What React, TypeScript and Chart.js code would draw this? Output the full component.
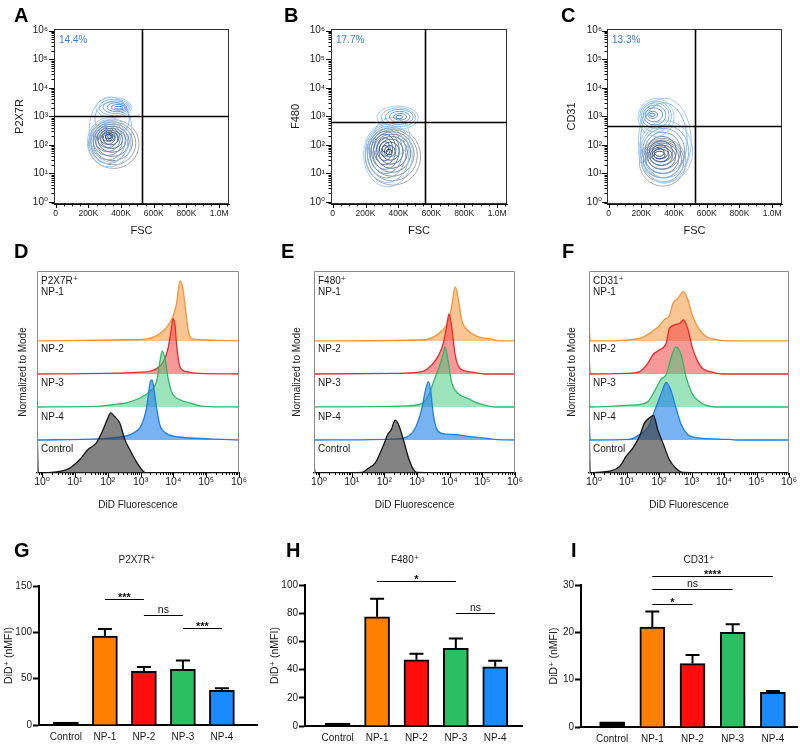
import React, { useEffect, useRef } from 'react';
import { Chart, registerables } from 'chart.js';

Chart.register(...registerables);

const FONT = '"Liberation Sans", Arial, "DejaVu Sans", sans-serif';
const INK = '#1a1a1a';

// ---------------- Top row: FSC vs marker contour plots ----------------
const FSC_MAJOR = [0, 200000, 400000, 600000, 800000, 1000000];
const FSC_LABELS = ['0', '200K', '400K', '600K', '800K', '1.0M'];
const DECADES = [1, 10, 100, 1000, 10000, 100000, 1000000];
const DECADE_LABELS = ['10⁰', '10¹', '10²', '10³', '10⁴', '10⁵', '10⁶'];

const MARKERS = ['P2X7R', 'F480', 'CD31'];
const QUADRANT_PCT = ['14.4%', '17.7%', '13.3%'];
const GATE_FSC = [530000, 559000, 530000];
const GATE_MARKER = [1050, 630, 470];

// contour rings: [FSC low (K), FSC high (K), marker low, marker high]
const A_GRAY = [
  [200, 510, 15, 760], [215, 490, 20, 640], [230, 470, 28, 540], [245, 450, 40, 450],
  [260, 430, 55, 380], [275, 410, 75, 320], [290, 385, 100, 280], [305, 360, 135, 250], [318, 345, 165, 225],
];
const A_BRIDGE = [[205, 465, 25, 4800], [240, 450, 200, 3200]];
const A_BLUE = [
  [194, 460, 17, 900], [205, 440, 22, 760], [215, 425, 30, 640], [228, 410, 42, 540],
  [240, 395, 58, 450], [255, 380, 80, 380], [270, 365, 105, 320], [285, 350, 135, 270], [305, 340, 160, 235],
];
const A_BLOB = [
  [245, 465, 900, 4600], [265, 455, 1050, 4000], [290, 445, 1250, 3500],
  [315, 435, 1450, 3000], [340, 425, 1650, 2600], [360, 412, 1800, 2250],
];

const B_GRAY = [
  [198, 535, 3.9, 400], [212, 515, 5.5, 340], [228, 495, 8, 290], [245, 475, 11, 240],
  [262, 455, 15, 200], [280, 430, 21, 160], [298, 405, 29, 125], [315, 380, 38, 95], [325, 360, 45, 70],
];
const B_BRIDGE = [[250, 470, 40, 900]];
const B_BLUE = [
  [188, 484, 3.4, 600], [198, 465, 4.8, 520], [210, 445, 7, 440], [222, 425, 10, 370],
  [235, 405, 14, 300], [250, 385, 20, 240], [268, 365, 28, 180], [285, 350, 40, 130], [300, 340, 55, 95],
];
const B_BLOB = [
  [270, 520, 350, 2300], [295, 505, 430, 2000], [320, 490, 520, 1750],
  [345, 470, 620, 1500], [370, 450, 740, 1250], [385, 425, 830, 1080],
];

const C_GRAY = [
  [188, 473, 3.6, 170], [200, 460, 5, 150], [212, 445, 7, 130], [225, 430, 10, 115],
  [238, 410, 14, 100], [252, 390, 19, 85], [265, 370, 26, 72], [278, 345, 33, 60],
];
const C_BRIDGE = [[182, 505, 4.5, 4300], [195, 480, 7, 3000]];
const C_BLUE = [
  [184, 514, 5, 700], [195, 490, 7, 500], [208, 465, 10, 380], [222, 440, 14, 280],
  [236, 415, 19, 200], [250, 390, 25, 140], [265, 365, 32, 100], [280, 340, 40, 75],
];
const C_BLOB = [
  [180, 400, 200, 4200], [190, 385, 280, 3500], [200, 370, 380, 3000], [212, 350, 500, 2500],
  [225, 330, 650, 2000], [240, 300, 850, 1500], [250, 285, 1000, 1300],
];

const CONTOURS = [
  { gray: A_GRAY, bridge: A_BRIDGE, blue: A_BLUE, blob: A_BLOB },
  { gray: B_GRAY, bridge: B_BRIDGE, blue: B_BLUE, blob: B_BLOB },
  { gray: C_GRAY, bridge: C_BRIDGE, blue: C_BLUE, blob: C_BLOB },
];

// ---------------- Middle row: DiD histograms ----------------
// each point: [DiD fluorescence, % of mode]; rows ordered Control, NP-4, NP-3, NP-2, NP-1
const ROW_NAMES = ['Control', 'NP-4', 'NP-3', 'NP-2', 'NP-1'];

const D_CONTROL = [[3.8, 3], [6.9, 8], [13.8, 22], [25, 39], [45, 50], [72, 72], [102, 92], [123, 100], [162, 94], [234, 83], [331, 56], [468, 39], [741, 19], [1202, 3], [1514, 0]];
const D_NP4 = [[56, 2], [234, 5], [589, 11], [1072, 25], [1514, 53], [1995, 97], [2239, 100], [2570, 84], [3090, 53], [3890, 25], [6166, 11], [15849, 5], [128825, 2]];
const D_NP3 = [[40, 1], [145, 4], [372, 7], [955, 15], [1905, 26], [3090, 43], [4074, 82], [4571, 93], [5495, 82], [6918, 48], [8710, 26], [15849, 12], [31623, 7], [81283, 1]];
const D_NP2 = [[1202, 3], [3090, 9], [4898, 20], [6918, 43], [8710, 76], [9772, 92], [11220, 81], [12589, 48], [15849, 12], [25119, 4], [64565, 1]];
const D_NP1 = [[372, 2], [1500, 3], [3090, 9], [6166, 22], [9772, 41], [12589, 63], [15849, 100], [19055, 90], [22387, 63], [28184, 19], [35481, 4], [64565, 2]];
const D_SPIKE = [100, 0, 0, 0, 0];

const E_CONTROL = [[20.4, 1], [32.4, 8], [52.5, 17], [74.1, 33], [105, 53], [126, 64], [162, 72], [214, 88], [269, 81], [380, 56], [550, 25], [776, 6], [977, 1]];
const E_NP4 = [[269, 2], [437, 4], [692, 11], [977, 25], [1413, 53], [1778, 81], [2239, 97], [2630, 81], [3162, 42], [3981, 19], [5754, 11], [14791, 9], [37154, 6], [120226, 3], [245471, 1]];
const E_NP3 = [[550, 2], [1413, 6], [2239, 19], [3162, 41], [4571, 64], [6166, 86], [7244, 100], [8710, 80], [11482, 41], [18621, 22], [37154, 14], [60256, 8], [120226, 3], [245471, 0]];
const E_NP2 = [[214, 1], [1413, 4], [2818, 15], [4571, 31], [6457, 52], [8128, 81], [9550, 100], [11482, 79], [14791, 31], [20893, 9], [47863, 3], [120226, 0]];
const E_NP1 = [[1778, 2], [3548, 8], [5754, 17], [9120, 33], [11482, 57], [14791, 90], [17783, 74], [23442, 35], [37154, 17], [75858, 7], [194984, 3], [309030, 0]];
const E_SPIKE = [17, 0, 0, 0, 0];

const F_CONTROL = [[1.17, 1], [3.02, 3], [6.17, 11], [9.77, 28], [15.8, 42], [25.1, 61], [35.5, 83], [51.3, 92], [67.6, 96], [91.2, 72], [132, 50], [209, 22], [331, 8], [537, 1]];
const F_NP4 = [[12.3, 1], [25.1, 9], [45.7, 21], [72.4, 48], [115, 76], [166, 96], [234, 82], [331, 54], [479, 26], [759, 9], [1380, 4], [14454, 1], [22909, 0]];
const F_NP3 = [[12.3, 3], [31.6, 5], [45.7, 9], [72.4, 26], [115, 46], [166, 54], [234, 82], [331, 100], [479, 87], [676, 51], [1072, 21], [1738, 9], [2754, 3], [5623, 0]];
const F_NP2 = [[9.8, 1], [25.1, 4], [45.7, 18], [64.6, 32], [102, 40], [166, 51], [209, 76], [331, 82], [427, 84], [562, 90], [759, 76], [1072, 43], [1549, 21], [2188, 9], [4467, 3], [8913, 0]];
const F_NP1 = [[12.3, 2], [31.6, 6], [64.6, 17], [102, 25], [148, 36], [209, 42], [275, 64], [372, 70], [562, 82], [759, 70], [1072, 42], [1738, 19], [2754, 8], [5012, 3], [11482, 0]];
const F_SPIKE = [100, 50, 12, 34, 33];

const HIST_HEADERS = ['P2X7R⁺', 'F480⁺', 'CD31⁺'];
const HISTS = [
  { rows: [D_CONTROL, D_NP4, D_NP3, D_NP2, D_NP1], spikes: D_SPIKE },
  { rows: [E_CONTROL, E_NP4, E_NP3, E_NP2, E_NP1], spikes: E_SPIKE },
  { rows: [F_CONTROL, F_NP4, F_NP3, F_NP2, F_NP1], spikes: F_SPIKE },
];

// ---------------- Bottom row: bar charts ----------------
const CATEGORIES = ['Control', 'NP-1', 'NP-2', 'NP-3', 'NP-4'];
const BAR_COLORS = ['#000000', '#ff8000', '#ff0d0d', '#2cbf62', '#1a8aff'];

const G_MEAN = [1, 96, 58, 60, 37.5];
const G_ERR = [0, 7.5, 4.5, 9.5, 2.2];
const G_SIG_FROM = [2, 3, 4];
const G_SIG_TO = [3, 4, 5];
const G_SIG_Y = [136, 118.7, 104.3];
const G_SIG_LABEL = ['***', 'ns', '***'];

const H_MEAN = [1, 77.5, 47, 55, 42];
const H_ERR = [0, 12.8, 4.2, 7, 4.2];
const H_SIG_FROM = [2, 4];
const H_SIG_TO = [4, 5];
const H_SIG_Y = [102.8, 80.3];
const H_SIG_LABEL = ['*', 'ns'];

const I_MEAN = [1.1, 21.1, 13.4, 20, 7.3];
const I_ERR = [0, 3.3, 1.8, 1.7, 0.3];
const I_SIG_FROM = [2, 2, 2];
const I_SIG_TO = [5, 4, 3];
const I_SIG_Y = [31.9, 29.1, 25.9];
const I_SIG_LABEL = ['****', 'ns', '*'];

const BAR_TITLES = ['P2X7R⁺', 'F480⁺', 'CD31⁺'];
const BARS = [
  { mean: G_MEAN, err: G_ERR, from: G_SIG_FROM, to: G_SIG_TO, y: G_SIG_Y, label: G_SIG_LABEL, yMax: 150, step: 50 },
  { mean: H_MEAN, err: H_ERR, from: H_SIG_FROM, to: H_SIG_TO, y: H_SIG_Y, label: H_SIG_LABEL, yMax: 100, step: 20 },
  { mean: I_MEAN, err: I_ERR, from: I_SIG_FROM, to: I_SIG_TO, y: I_SIG_Y, label: I_SIG_LABEL, yMax: 30, step: 10 },
];

// ---------------- layout (positions / sizes) ----------------
const TOP_GEOM = [
  { left: 0, width: 265, yW: 54, padR: 36, titlePad: 14.5, labelPad: 6 },
  { left: 265, width: 265, yW: 66, padR: 23, titlePad: 25.5, labelPad: 6 },
  { left: 530, width: 270, yW: 77, padR: 18, titlePad: 36.5, labelPad: 5 },
];
const MID_GEOM = [
  { left: 0, width: 265, yW: 37, padR: 26, titlePad: 18 },
  { left: 265, width: 265, yW: 49, padR: 15, titlePad: 27 },
  { left: 530, width: 270, yW: 59, padR: 10, titlePad: 37 },
];
const BOT_GEOM = [
  { left: 0, width: 265, yW: 39, padTop: 46, padR: 8, xH: 20, xMin: 0.31, xMax: 5.9, titlePad: 4 },
  { left: 265, width: 265, yW: 40, padTop: 45, padR: 8, xH: 19, xMin: 0.17, xMax: 5.68, titlePad: 5 },
  { left: 530, width: 270, yW: 51, padTop: 45, padR: 3, xH: 18, xMin: 0.225, xMax: 5.6, titlePad: 19 },
];

const ROW_LINE = ['#151515', '#1f7fe6', '#2db868', '#ea2a2a', '#f29433'];
const ROW_FILL = ['rgba(55,55,55,0.62)', 'rgba(35,130,235,0.62)', 'rgba(60,200,120,0.5)', 'rgba(240,70,70,0.55)', 'rgba(245,150,60,0.55)'];
const PEAK_UNITS = 1.82;
const HIST_MIN = 0.7;
const HIST_MAX = 1000000;
const HIST_LABEL_Y = [0.72, 1.7, 2.72, 3.75, 5.48];

const GRAY_OUT = [170, 170, 170];
const GRAY_IN = [70, 70, 70];
const BLUE_OUT = [160, 202, 242];
const BLUE_IN = [35, 85, 165];
const BLOB_IN = [70, 130, 210];

// ---------------- helpers ----------------
function mixColor(a: number[], b: number[], t: number) {
  const c = a.map((v, i) => Math.round(v + (b[i] - v) * t));
  return `rgb(${c[0]},${c[1]},${c[2]})`;
}

function fscTicks() {
  const out: any[] = [];
  for (let v = 0; v <= 1050000; v += 50000) out.push({ value: v, major: FSC_MAJOR.includes(v) });
  return out;
}
function fscLabel(v: number) {
  const i = FSC_MAJOR.indexOf(v);
  return i < 0 ? '' : FSC_LABELS[i];
}
function logTicks(min: number, max: number) {
  const out: any[] = [];
  for (let e = -1; e <= 6; e++) {
    const d = Math.pow(10, e);
    for (let k = 1; k <= 9; k++) {
      const v = parseFloat((k * d).toPrecision(6));
      if (v >= min * 1.05 && v <= max * 1.0001) out.push({ value: v, major: k === 1 });
    }
  }
  return out;
}
function decadeLabel(v: number) {
  const i = DECADES.indexOf(v);
  return i < 0 ? '' : DECADE_LABELS[i];
}

// ---------------- plugins ----------------
const contourPlugin = {
  id: 'contourRings',
  afterDatasetsDraw(chart: any) {
    const { ctx, chartArea: ca, scales } = chart;
    const xs = scales.x;
    const ys = scales.y;
    ctx.save();
    ctx.beginPath();
    ctx.rect(ca.left, ca.top, ca.right - ca.left, ca.bottom - ca.top);
    ctx.clip();
    chart.data.datasets.forEach((ds: any) => {
      const n = ds.data.length;
      ds.data.forEach((p: any, i: number) => {
        const r = p.ring;
        const x1 = xs.getPixelForValue(r[0] * 1000);
        const x2 = xs.getPixelForValue(r[1] * 1000);
        const y1 = ys.getPixelForValue(r[3]);
        const y2 = ys.getPixelForValue(r[2]);
        ctx.strokeStyle = mixColor(ds.ringFrom, ds.ringTo, n > 1 ? i / (n - 1) : 0);
        ctx.lineWidth = 1;
        ctx.beginPath();
        ctx.ellipse((x1 + x2) / 2, (y1 + y2) / 2, Math.abs(x2 - x1) / 2, Math.abs(y2 - y1) / 2, 0, 0, Math.PI * 2);
        ctx.stroke();
      });
    });
    ctx.restore();
  },
};

const quadrantPlugin = {
  id: 'quadrant',
  afterDatasetsDraw(chart: any, _a: any, opts: any) {
    const { ctx, chartArea: ca, scales } = chart;
    const gx = Math.round(scales.x.getPixelForValue(opts.gx)) + 0.5;
    const gy = Math.round(scales.y.getPixelForValue(opts.gy)) + 0.5;
    ctx.save();
    ctx.strokeStyle = '#333';
    ctx.lineWidth = 1;
    ctx.strokeRect(ca.left + 0.5, ca.top + 0.5, ca.right - ca.left - 1, ca.bottom - ca.top - 1);
    ctx.strokeStyle = '#000';
    ctx.lineWidth = 1.6;
    ctx.beginPath();
    ctx.moveTo(gx, ca.top);
    ctx.lineTo(gx, ca.bottom);
    ctx.moveTo(ca.left, gy);
    ctx.lineTo(ca.right, gy);
    ctx.stroke();
    ctx.fillStyle = '#3b82d6';
    ctx.font = `10px ${FONT}`;
    ctx.textBaseline = 'top';
    ctx.textAlign = 'left';
    ctx.fillText(opts.text, ca.left + 5, ca.top + 6);
    ctx.restore();
  },
};

const tickMarkPlugin = {
  id: 'tickMarks',
  afterDraw(chart: any, _a: any, opts: any) {
    const { ctx } = chart;
    ctx.save();
    ctx.strokeStyle = '#000';
    ctx.lineWidth = 1;
    ['x', 'y'].forEach((id) => {
      const cfg = opts[id];
      const s = chart.scales[id];
      if (!cfg || !s) return;
      s.ticks.forEach((t: any) => {
        const len = t.major ? cfg.major : cfg.minor;
        const p = Math.round(s.getPixelForValue(t.value)) + 0.5;
        ctx.beginPath();
        if (id === 'x') {
          ctx.moveTo(p, s.top);
          ctx.lineTo(p, s.top + len);
        } else {
          ctx.moveTo(s.right, p);
          ctx.lineTo(s.right - len, p);
        }
        ctx.stroke();
      });
    });
    ctx.restore();
  },
};

const histDecorPlugin = {
  id: 'histDecor',
  afterDraw(chart: any, _a: any, opts: any) {
    const { ctx, chartArea: ca, scales } = chart;
    ctx.save();
    ctx.strokeStyle = '#8a8a8a';
    ctx.lineWidth = 1;
    ctx.beginPath();
    ctx.moveTo(ca.left + 0.5, ca.bottom);
    ctx.lineTo(ca.left + 0.5, ca.top + 0.5);
    ctx.lineTo(ca.right - 0.5, ca.top + 0.5);
    ctx.lineTo(ca.right - 0.5, ca.bottom);
    ctx.stroke();
    ctx.fillStyle = INK;
    ctx.font = `10px ${FONT}`;
    ctx.textAlign = 'left';
    ctx.textBaseline = 'middle';
    opts.labels.forEach((l: any) => ctx.fillText(l.text, ca.left + 4, scales.y.getPixelForValue(l.y)));
    ctx.restore();
  },
};

const barDecorPlugin = {
  id: 'barDecor',
  afterDatasetsDraw(chart: any, _a: any, opts: any) {
    const { ctx, scales } = chart;
    const xs = scales.x;
    const ys = scales.y;
    const pts = chart.data.datasets[0].data;
    ctx.save();
    ctx.strokeStyle = '#000';
    ctx.lineWidth = 2;
    pts.forEach((p: any, i: number) => {
      const e = opts.err[i];
      if (!e) return;
      const px = xs.getPixelForValue(p.x);
      const y0 = ys.getPixelForValue(p.y);
      const y1 = ys.getPixelForValue(p.y + e);
      ctx.beginPath();
      ctx.moveTo(px, y0);
      ctx.lineTo(px, y1);
      ctx.moveTo(px - 7, y1);
      ctx.lineTo(px + 7, y1);
      ctx.stroke();
    });
    ctx.lineWidth = 1.2;
    ctx.fillStyle = '#111';
    ctx.textAlign = 'center';
    ctx.textBaseline = 'alphabetic';
    opts.sig.forEach((s: any) => {
      const x1 = xs.getPixelForValue(s.from);
      const x2 = xs.getPixelForValue(s.to);
      const y = Math.round(ys.getPixelForValue(s.y)) + 0.5;
      ctx.beginPath();
      ctx.moveTo(x1, y);
      ctx.lineTo(x2, y);
      ctx.stroke();
      const stars = s.label.indexOf('*') >= 0;
      ctx.font = stars ? `bold 11px ${FONT}` : `10.5px ${FONT}`;
      ctx.fillText(s.label, (x1 + x2) / 2, stars ? y + 1.5 : y - 3);
    });
    ctx.restore();
  },
};

// ---------------- chart configs ----------------
function ringSet(rings: number[][], label: string, from: number[], to: number[]) {
  return {
    type: 'scatter',
    label,
    data: rings.map((r) => ({ x: (r[0] + r[1]) * 500, y: Math.sqrt(r[2] * r[3]), ring: r })),
    pointRadius: 0,
    ringFrom: from,
    ringTo: to,
  };
}

function topConfig(k: number): any {
  const g = TOP_GEOM[k];
  const c = CONTOURS[k];
  return {
    type: 'scatter',
    data: {
      datasets: [
        ringSet(c.gray, 'Unstained', GRAY_OUT, GRAY_IN),
        ringSet(c.bridge, MARKERS[k] + ' outer', BLUE_OUT, [130, 180, 235]),
        ringSet(c.blue, MARKERS[k], BLUE_OUT, BLUE_IN),
        ringSet(c.blob, MARKERS[k] + ' high', BLUE_OUT, BLOB_IN),
      ],
    },
    options: {
      animation: false,
      responsive: false,
      maintainAspectRatio: false,
      events: [],
      layout: { padding: { top: 29, right: g.padR, left: 0, bottom: 0 } },
      plugins: {
        legend: { display: false },
        tooltip: { enabled: false },
        quadrant: { gx: GATE_FSC[k], gy: GATE_MARKER[k], text: QUADRANT_PCT[k] },
        tickMarks: { x: { major: 4, minor: 2.5 }, y: { major: 5, minor: 2.5 } },
      },
      scales: {
        x: {
          type: 'linear',
          position: 'bottom',
          min: -10000,
          max: 1060000,
          afterBuildTicks: (s: any) => { s.ticks = fscTicks(); },
          afterFit: (s: any) => { s.height = 41; },
          ticks: { autoSkip: false, maxRotation: 0, padding: 5, color: INK, font: { family: FONT, size: 8.5 }, callback: fscLabel },
          grid: { display: false, drawTicks: false },
          border: { display: true, color: '#000', width: 1 },
          title: { display: true, text: 'FSC', color: INK, font: { family: FONT, size: 11, lineHeight: 1 }, padding: { top: 0, bottom: 8.5 } },
        },
        y: {
          type: 'logarithmic',
          position: 'left',
          min: 0.85,
          max: 1150000,
          afterBuildTicks: (s: any) => { s.ticks = logTicks(s.min, s.max); },
          afterFit: (s: any) => { s.width = g.yW; },
          ticks: { autoSkip: false, padding: g.labelPad, color: INK, font: { family: FONT, size: 10 }, callback: decadeLabel },
          grid: { display: false, drawTicks: false },
          border: { display: true, color: '#000', width: 1 },
          title: { display: true, text: MARKERS[k], color: INK, font: { family: FONT, size: 11, lineHeight: 1 }, padding: { top: g.titlePad, bottom: 0 } },
        },
      },
    },
    plugins: [contourPlugin, quadrantPlugin, tickMarkPlugin],
  };
}

function midConfig(k: number): any {
  const g = MID_GEOM[k];
  const h = HISTS[k];
  const datasets = h.rows.map((pts, i) => {
    const lift = (p: number) => i + (p * PEAK_UNITS) / 100;
    const data: any[] = [{ x: HIST_MIN, y: lift(h.spikes[i]) }];
    if (h.spikes[i] > 0) data.push({ x: 0.76, y: i });
    pts.forEach(([x, p]) => data.push({ x, y: lift(p) }));
    data.push({ x: HIST_MAX, y: i });
    return {
      label: ROW_NAMES[i],
      data,
      borderColor: ROW_LINE[i],
      backgroundColor: ROW_FILL[i],
      fill: { value: i },
      borderWidth: 1.3,
      pointRadius: 0,
      cubicInterpolationMode: 'monotone',
    };
  });
  const labels = [{ text: HIST_HEADERS[k], y: 5.82 }].concat(ROW_NAMES.map((t, i) => ({ text: t, y: HIST_LABEL_Y[i] })));
  return {
    type: 'line',
    data: { datasets },
    options: {
      animation: false,
      responsive: false,
      maintainAspectRatio: false,
      events: [],
      layout: { padding: { top: 21, right: g.padR, left: 0, bottom: 0 } },
      plugins: {
        legend: { display: false },
        tooltip: { enabled: false },
        filler: { propagate: false },
        histDecor: { labels },
        tickMarks: { x: { major: 4, minor: 2 } },
      },
      scales: {
        x: {
          type: 'logarithmic',
          position: 'bottom',
          min: HIST_MIN,
          max: HIST_MAX,
          afterBuildTicks: (s: any) => { s.ticks = logTicks(s.min, s.max); },
          afterFit: (s: any) => { s.height = 42; },
          ticks: { autoSkip: false, maxRotation: 0, padding: 3, color: INK, font: { family: FONT, size: 10.5 }, callback: decadeLabel },
          grid: { display: false, drawTicks: false },
          border: { display: true, color: '#000', width: 1.2 },
          title: { display: true, text: 'DiD Fluorescence', color: INK, font: { family: FONT, size: 10, lineHeight: 1 }, padding: { top: 0, bottom: 5 } },
        },
        y: {
          type: 'linear',
          min: 0,
          max: 6.12,
          afterFit: (s: any) => { s.width = g.yW; },
          ticks: { display: false },
          grid: { display: false, drawTicks: false },
          border: { display: false },
          title: { display: true, text: 'Normalized to Mode', color: INK, font: { family: FONT, size: 10, lineHeight: 1 }, padding: { top: g.titlePad, bottom: 0 } },
        },
      },
    },
    plugins: [histDecorPlugin, tickMarkPlugin],
  };
}

function botConfig(k: number): any {
  const g = BOT_GEOM[k];
  const b = BARS[k];
  const sig = b.from.map((f, i) => ({ from: f, to: b.to[i], y: b.y[i], label: b.label[i] }));
  return {
    type: 'bar',
    data: {
      datasets: [
        {
          label: BAR_TITLES[k],
          data: b.mean.map((m, i) => ({ x: i + 1, y: m })),
          backgroundColor: BAR_COLORS,
          borderColor: '#000',
          borderWidth: 2,
          borderSkipped: 'bottom',
          barThickness: 25,
          minBarLength: 3,
        },
      ],
    },
    options: {
      animation: false,
      responsive: false,
      maintainAspectRatio: false,
      events: [],
      layout: { padding: { top: g.padTop, right: g.padR, left: 0, bottom: 0 } },
      plugins: {
        legend: { display: false },
        tooltip: { enabled: false },
        barDecor: { err: b.err, sig },
      },
      scales: {
        x: {
          type: 'linear',
          offset: false,
          min: g.xMin,
          max: g.xMax,
          afterBuildTicks: (s: any) => { s.ticks = CATEGORIES.map((_, i) => ({ value: i + 1 })); },
          afterFit: (s: any) => { s.height = g.xH; },
          ticks: { autoSkip: false, maxRotation: 0, padding: 6, color: INK, font: { family: FONT, size: 10 }, callback: (v: number) => CATEGORIES[v - 1] || '' },
          grid: { display: false, drawTicks: false, offset: false },
          border: { display: true, color: '#000', width: 2 },
        },
        y: {
          type: 'linear',
          min: 0,
          max: b.yMax,
          afterFit: (s: any) => { s.width = g.yW; },
          ticks: { stepSize: b.step, padding: 1, color: INK, font: { family: FONT, size: 10 } },
          grid: { display: true, drawOnChartArea: false, drawTicks: true, tickLength: 6, tickWidth: 2, tickColor: '#000' },
          border: { display: true, color: '#000', width: 2 },
          title: { display: true, text: 'DiD⁺ (nMFI)', color: INK, font: { family: FONT, size: 10.5, lineHeight: 1 }, padding: { top: g.titlePad, bottom: 0 } },
        },
      },
    },
    plugins: [barDecorPlugin],
  };
}

// ---------------- components ----------------
function ChartBox(props: { left: number; top: number; width: number; height: number; make: () => any }) {
  const ref = useRef<HTMLCanvasElement | null>(null);
  useEffect(() => {
    const chart = new Chart(ref.current as HTMLCanvasElement, props.make());
    return () => chart.destroy();
  }, []);
  return (
    <canvas
      ref={ref}
      width={props.width}
      height={props.height}
      style={{ position: 'absolute', left: props.left, top: props.top, width: props.width, height: props.height }}
    />
  );
}

const letterStyle = (left: number, top: number): React.CSSProperties => ({
  position: 'absolute', left, top, fontFamily: FONT, fontWeight: 'bold', fontSize: 20, lineHeight: '20px', color: '#000',
});

export default function App() {
  const letters: [string, number, number][] = [
    ['A', 14, 5], ['B', 284, 5], ['C', 561, 5],
    ['D', 14, 241], ['E', 281, 241], ['F', 562, 241],
    ['G', 14, 540], ['H', 286, 540], ['I', 571, 540],
  ];
  const titleX = [137, 405, 699];
  return (
    <div style={{ position: 'absolute', left: 0, top: 0, width: 800, height: 745, background: '#fff', overflow: 'hidden' }}>
      {TOP_GEOM.map((g, k) => (
        <ChartBox key={'t' + k} left={g.left} top={0} width={g.width} height={245} make={() => topConfig(k)} />
      ))}
      {MID_GEOM.map((g, k) => (
        <ChartBox key={'m' + k} left={g.left} top={250} width={g.width} height={265} make={() => midConfig(k)} />
      ))}
      {BOT_GEOM.map((g, k) => (
        <ChartBox key={'b' + k} left={g.left} top={540} width={g.width} height={205} make={() => botConfig(k)} />
      ))}
      {BAR_TITLES.map((t, k) => (
        <div key={'bt' + k} style={{ position: 'absolute', left: titleX[k] - 50, top: 555, width: 100, textAlign: 'center', fontFamily: FONT, fontSize: 10, lineHeight: '10px', color: INK }}>{t}</div>
      ))}
      {letters.map(([t, l, tp]) => (
        <div key={t} style={letterStyle(l, tp)}>{t}</div>
      ))}
    </div>
  );
}
